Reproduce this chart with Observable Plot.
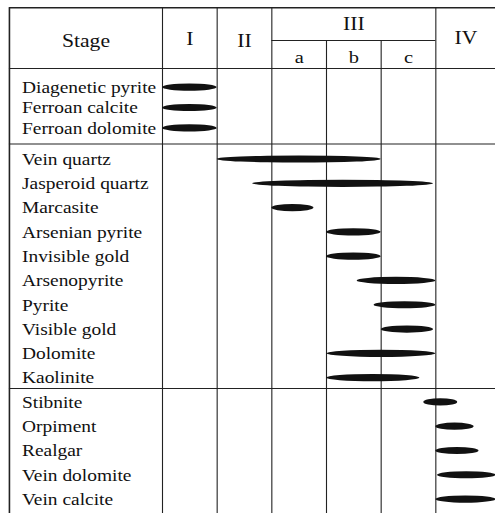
<!DOCTYPE html>
<html>
<head>
<meta charset="utf-8">
<script src="https://cdn.jsdelivr.net/npm/d3@7"></script>
<script src="https://cdn.jsdelivr.net/npm/@observablehq/plot@0.6"></script>
<style>
  html, body { margin: 0; padding: 0; background: #fff; }
  svg { display: block; }
</style>
</head>
<body>
<div id="chart"></div>
<script>
// ---- data ----
const minerals = [
  "Diagenetic pyrite", "Ferroan calcite", "Ferroan dolomite",
  "Vein quartz", "Jasperoid quartz", "Marcasite", "Arsenian pyrite",
  "Invisible gold", "Arsenopyrite", "Pyrite", "Visible gold",
  "Dolomite", "Kaolinite",
  "Stibnite", "Orpiment", "Realgar", "Vein dolomite", "Vein calcite"
];
// start / end of each mineral, in stage-column units (I = 0–1, II = 1–2, IIIa = 2–3, IIIb = 3–4, IIIc = 4–5, IV = 5–6)
const startStage = [0, 0, 0, 1, 1.65, 2, 3, 3, 3.56, 3.87, 4, 3.01, 3, 4.78, 5, 5, 5.03, 5];
const endStage   = [1, 1, 1, 4, 4.96, 2.77, 4, 4, 5, 5, 4.96, 5, 4.71, 5.4, 5.7, 5.79, 6.1, 6.1];

const stageLabels = ["I", "II", "III", "IV"];
const stageCenters = [0.5, 1.5, 3.5, 5.55];
const subLabels = ["a", "b", "c"];
const subCenters = [2.5, 3.5, 4.5];

// row layout: the first (diagenetic) group is set a little tighter than the others
const rowPos = d3.scaleLinear().domain([0, 2, 3, 17]).range([0.04, 1.72, 3, 17]);
const rows = minerals.map((name, i) => ({name, row: rowPos(i), x1: startStage[i], x2: endStage[i]}));

// ---- layout constants (table structure, in scale units) ----
const yTop = -3.245, ySub = -1.9, yHead = -0.746, yBottom = 17.6;
const groupLines = [2.36, 12.43];
const xLeft = -2.8, xRight = 6.1;
const font = "'Liberation Serif', 'Times New Roman', serif";
const ink = "#222";

const svg = Plot.plot({
  width: 495,
  height: 513,
  marginLeft: 162,
  marginRight: 5,
  marginTop: 0,
  marginBottom: 0,
  style: {fontFamily: font, background: "#fff", color: "#111"},
  x: {domain: [0, 6], axis: null},
  y: {domain: [-3.546, 17.574], range: [0, 513], axis: null},
  marks: [
    // borders and table lines
    Plot.ruleY([yTop], {x1: xLeft, x2: xRight, stroke: ink, strokeWidth: 1.6}),
    Plot.ruleX([xLeft], {y1: yTop, y2: yBottom, stroke: ink, strokeWidth: 1.6}),
    Plot.ruleY([yHead, ...groupLines], {x1: xLeft, x2: xRight, stroke: ink, strokeWidth: 1.1}),
    Plot.ruleY([ySub], {x1: 2, x2: 5, stroke: ink, strokeWidth: 1.1}),
    Plot.ruleX([0, 1, 2, 5], {y1: yTop, y2: yBottom, stroke: ink, strokeWidth: 1.1}),
    Plot.ruleX([3, 4], {y1: ySub, y2: yBottom, stroke: ink, strokeWidth: 1.1}),
    // header
    Plot.text(["Stage"], {x: -1.4, y: -1.86, text: d => d, fontSize: 18.5, fill: "#111"}),
    Plot.text(stageLabels, {x: (d, i) => stageCenters[i], y: (d, i) => [-1.94, -1.86, -2.56, -1.98][i], text: d => d, fontSize: 18.5, fill: "#111"}),
    Plot.text(subLabels, {x: (d, i) => subCenters[i], y: -1.2, text: d => d, fontSize: 17.5, fill: "#111"}),
    // mineral bars (ellipses)
    Plot.rect(rows, {x1: "x1", x2: "x2", y1: "row", y2: "row", insetTop: -3.6, insetBottom: -3.6, rx: 1000, ry: 1000, fill: "#111"}),
    // row labels
    Plot.text(rows, {x: -2.57, y: "row", text: "name", textAnchor: "start", fontSize: 16.6, fill: "#111"})
  ]
});

// the reference typeface is set slightly wide; stretch text horizontally around its anchor
svg.querySelectorAll("text").forEach(t => {
  const tr = t.getAttribute("transform");
  if (tr) t.setAttribute("transform", tr + " scale(1.17,1)");
});

document.getElementById("chart").appendChild(svg);
</script>
</body>
</html>
